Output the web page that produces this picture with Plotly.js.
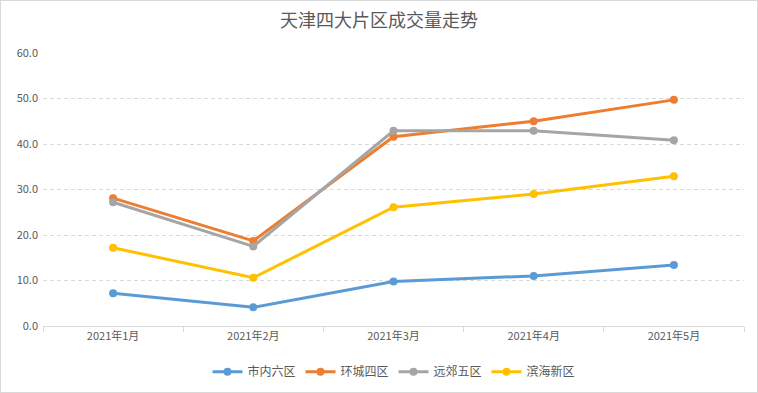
<!DOCTYPE html>
<html>
<head>
<meta charset="utf-8">
<script src="https://cdn.plot.ly/plotly-3.0.1.min.js"></script>
<style>
html,body{margin:0;padding:0;background:#fff;}
#chart{width:758px;height:393px;box-sizing:border-box;border:1px solid #d9d9d9;}
</style>
</head>
<body>
<div id="chart"></div>
<script>
const categories = ["2021年1月","2021年2月","2021年3月","2021年4月","2021年5月"];
const seriesNames = ["市内六区","环城四区","远郊五区","滨海新区"];
const shineiLiuqu = [7.2, 4.1, 9.8, 11.0, 13.4];
const huanchengSiqu = [28.1, 18.7, 41.6, 45.0, 49.7];
const yuanjiaoWuqu = [27.2, 17.5, 42.9, 42.9, 40.8];
const binhaiXinqu = [17.2, 10.6, 26.1, 29.0, 32.9];
const colors = ["#5B9BD5","#ED7D31","#A5A5A5","#FFC000"];
const values = [shineiLiuqu, huanchengSiqu, yuanjiaoWuqu, binhaiXinqu];

const font = "'Noto Sans CJK SC', 'Noto Sans', sans-serif";
const traces = values.map((v, i) => ({
  type: "scatter",
  mode: "lines+markers",
  name: seriesNames[i],
  x: categories,
  y: v,
  line: {color: colors[i], width: 3},
  marker: {color: colors[i], size: 8}
}));

const layout = {
  width: 756, height: 391,
  margin: {l: 42, r: 13, t: 52, b: 66},
  paper_bgcolor: "#fff", plot_bgcolor: "#fff",
  font: {family: font, size: 11, color: "#595959"},
  title: {text: "天津四大片区成交量走势", font: {family: font, size: 18, color: "#595959"}, x: 0.5, xanchor: "center", y: 0.95, yanchor: "middle"},
  showlegend: true,
  legend: {orientation: "h", x: 0.5, xanchor: "center", yref: "container", y: 0.052, yanchor: "middle",
           font: {family: font, size: 12, color: "#595959"}, itemwidth: 30, tracegroupgap: 0,
           entrywidthmode: "pixels", entrywidth: 48},
  xaxis: {
    type: "category",
    range: [-0.5, 4.5], autorange: false,
    showgrid: false,
    showline: true, linecolor: "#d9d9d9", linewidth: 1,
    ticks: "outside", tickson: "boundaries", ticklen: 5, tickcolor: "#d9d9d9",
    tickfont: {family: font, size: 11, color: "#595959"},
    zeroline: false, fixedrange: true, automargin: false
  },
  yaxis: {
    range: [0, 60], autorange: false, dtick: 10, tickformat: ".1f",
    showgrid: true, gridcolor: "#d9d9d9", griddash: "4px,3px", gridwidth: 1,
    zeroline: false, showline: false,
    tickfont: {family: font, size: 11, color: "#595959"},
    ticklabelstandoff: 4, fixedrange: true, automargin: false
  }
};

Plotly.newPlot("chart", traces, layout, {displayModeBar: false, staticPlot: true});
</script>
</body>
</html>
